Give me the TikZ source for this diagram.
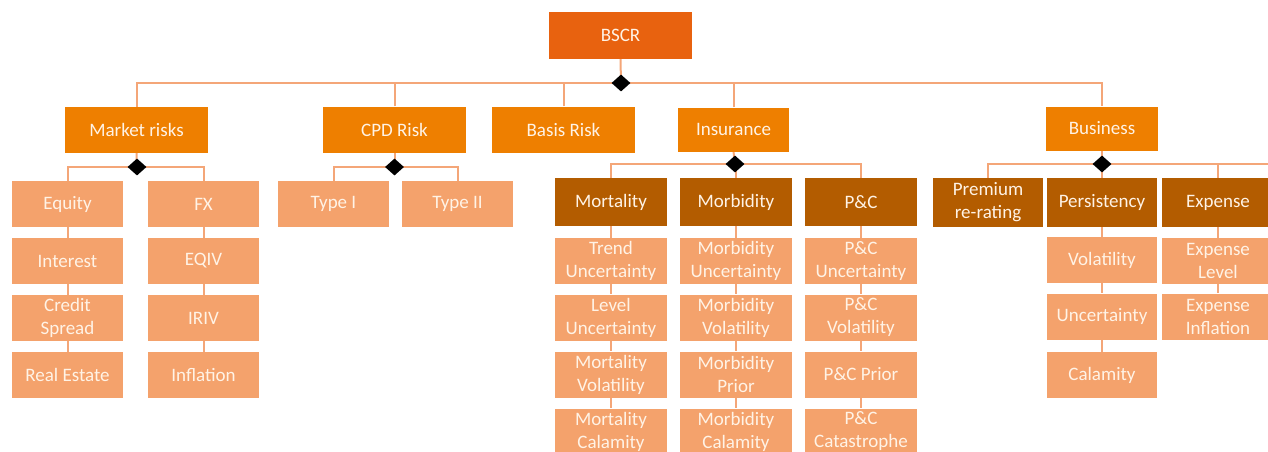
\documentclass[tikz,border=0pt]{standalone}
\usepackage{fontspec}
\setmainfont{Carlito}
\usetikzlibrary{shapes.geometric,backgrounds}
\definecolor{cTop}{HTML}{E8620F}
\definecolor{cMid}{HTML}{EE7F00}
\definecolor{cDark}{HTML}{B35C00}
\definecolor{cLight}{HTML}{F4A26C}
\definecolor{cLine}{HTML}{F4A678}
\definecolor{cText}{HTML}{FFF3E6}
\begin{document}
\begin{tikzpicture}[x=1pt,y=-1pt,
  box/.style={rectangle, inner sep=0pt, align=center, text=cText,
    font=\fontsize{19}{23}\selectfont, minimum width=111pt, minimum height=46pt},
  topbox/.style={box, fill=cTop, minimum width=143pt, minimum height=47pt},
  midbox/.style={box, fill=cMid, minimum width=143pt},
  darkbox/.style={box, fill=cDark, minimum height=48pt},
  lightbox/.style={box, fill=cLight},
  knot/.style={diamond, fill=black, inner sep=0pt, minimum width=19pt, minimum height=17pt},
  link/.style={draw=cLine, line width=2pt}]
\useasboundingbox (0,0) rectangle (1268,452);
\clip (0,0) rectangle (1268,452);

% top
\node[topbox] (bscr) at (620.5,35.5) {BSCR};
\node[knot] (k0) at (621,83) {};

% level 1
\node[midbox] (mkt) at (136.5,130) {Market risks};
\node[midbox] (cpd) at (394.5,129.5) {CPD Risk};
\node[midbox] (bas) at (563.5,129.5) {Basis Risk};
\node[midbox, minimum width=111pt, minimum height=44pt] (ins) at (733.5,129.5) {Insurance};
\node[midbox, minimum width=112pt, minimum height=44pt] (bus) at (1102,128.5) {Business};

% market risks
\node[knot] (k1) at (137,167) {};
\node[lightbox] (eq)  at (67.5,204) {Equity};
\node[lightbox] (int) at (67.5,261) {Interest};
\node[lightbox] (cs)  at (67.5,318) {Credit\\Spread};
\node[lightbox] (re)  at (67.5,375) {Real Estate};
\node[lightbox] (fx)  at (203.5,204) {FX};
\node[lightbox] (eqiv) at (203.5,261) {EQIV};
\node[lightbox] (iriv) at (203.5,318) {IRIV};
\node[lightbox] (infl) at (203.5,375) {Inflation};

% CPD
\node[knot] (k2) at (394.5,167) {};
\node[lightbox] (t1) at (333.5,204) {Type I};
\node[lightbox] (t2) at (457.5,204) {Type II};

% insurance
\node[knot] (k3) at (735,164) {};
\node[darkbox, minimum width=112pt] (mort) at (611,202) {Mortality};
\node[darkbox, minimum width=112pt] (morb) at (736,202) {Morbidity};
\node[darkbox, minimum width=112pt] (pc)   at (861,202) {P\&C};
\node[lightbox, minimum width=112pt] (m1) at (611,261) {Trend\\Uncertainty};
\node[lightbox, minimum width=112pt] (m2) at (611,317.5) {Level\\Uncertainty};
\node[lightbox, minimum width=112pt] (m3) at (611,374.5) {Mortality\\Volatility};
\node[lightbox, minimum width=112pt] (m4) at (611,431.5) {Mortality\\Calamity};
\node[lightbox, minimum width=112pt] (b1) at (736,261) {Morbidity\\Uncertainty};
\node[lightbox, minimum width=112pt] (b2) at (736,317.5) {Morbidity\\Volatility};
\node[lightbox, minimum width=112pt] (b3) at (736,374.5) {Morbidity\\Prior};
\node[lightbox, minimum width=112pt] (b4) at (736,431.5) {Morbidity\\Calamity};
\node[lightbox, minimum width=112pt] (p1) at (861,261) {P\&C\\Uncertainty};
\node[lightbox, minimum width=112pt] (p2) at (861,317.5) {P\&C\\Volatility};
\node[lightbox, minimum width=112pt] (p3) at (861,374.5) {P\&C Prior};
\node[lightbox, minimum width=112pt] (p4) at (861,431.5) {P\&C\\Catastrophe};

% business
\node[knot] (k4) at (1102,164) {};
\node[darkbox, minimum width=110pt, minimum height=49pt] (prem) at (988,202.5) {Premium\\re-rating};
\node[darkbox, minimum width=110pt, minimum height=49pt] (pers) at (1102,202.5) {Persistency};
\node[darkbox, minimum width=112pt, minimum height=49pt] (exp)  at (1218,202.5) {Expense};
\node[lightbox, minimum width=110pt] (s1) at (1102,260) {Volatility};
\node[lightbox, minimum width=110pt] (s2) at (1102,316.5) {Uncertainty};
\node[lightbox, minimum width=110pt] (s3) at (1102,375) {Calamity};
\node[lightbox, minimum width=112pt] (e1) at (1218,261) {Expense\\Level};
\node[lightbox, minimum width=112pt] (e2) at (1218,316.5) {Expense\\Inflation};
\coordinate (edge) at (1272,164);

\begin{pgfonlayer}{background}
  % root
  \draw[link] (bscr.south) -- (k0.center);
  \draw[link] (mkt.north) |- (k0.center) -| (bus.north);
  \draw[link] (cpd.north) -- (cpd.north |- k0.center);
  \draw[link] (bas.north) -- (bas.north |- k0.center);
  \draw[link] (ins.north) -- (ins.north |- k0.center);
  % market
  \draw[link] (mkt.south) -- (k1.center);
  \draw[link] (eq.north) |- (k1.center) -| (fx.north);
  \draw[link] (eq) -- (int) -- (cs) -- (re);
  \draw[link] (fx) -- (eqiv) -- (iriv) -- (infl);
  % cpd
  \draw[link] (cpd.south) -- (k2.center);
  \draw[link] (t1.north) |- (k2.center) -| (t2.north);
  % insurance
  \draw[link] (ins.south) -- (k3.center);
  \draw[link] (mort.north) |- (k3.center) -| (pc.north);
  \draw[link] (morb.north) -- (morb.north |- k3.center);
  \draw[link] (mort) -- (m1) -- (m2) -- (m3) -- (m4);
  \draw[link] (morb) -- (b1) -- (b2) -- (b3) -- (b4);
  \draw[link] (pc) -- (p1) -- (p2) -- (p3) -- (p4);
  % business
  \draw[link] (bus.south) -- (k4.center);
  \draw[link] (prem.north) |- (k4.center) -- (edge);
  \draw[link] (pers.north) -- (pers.north |- k4.center);
  \draw[link] (exp.north) -- (exp.north |- k4.center);
  \draw[link] (pers) -- (s1) -- (s2) -- (s3);
  \draw[link] (exp) -- (e1) -- (e2);
\end{pgfonlayer}
\end{tikzpicture}
\end{document}
